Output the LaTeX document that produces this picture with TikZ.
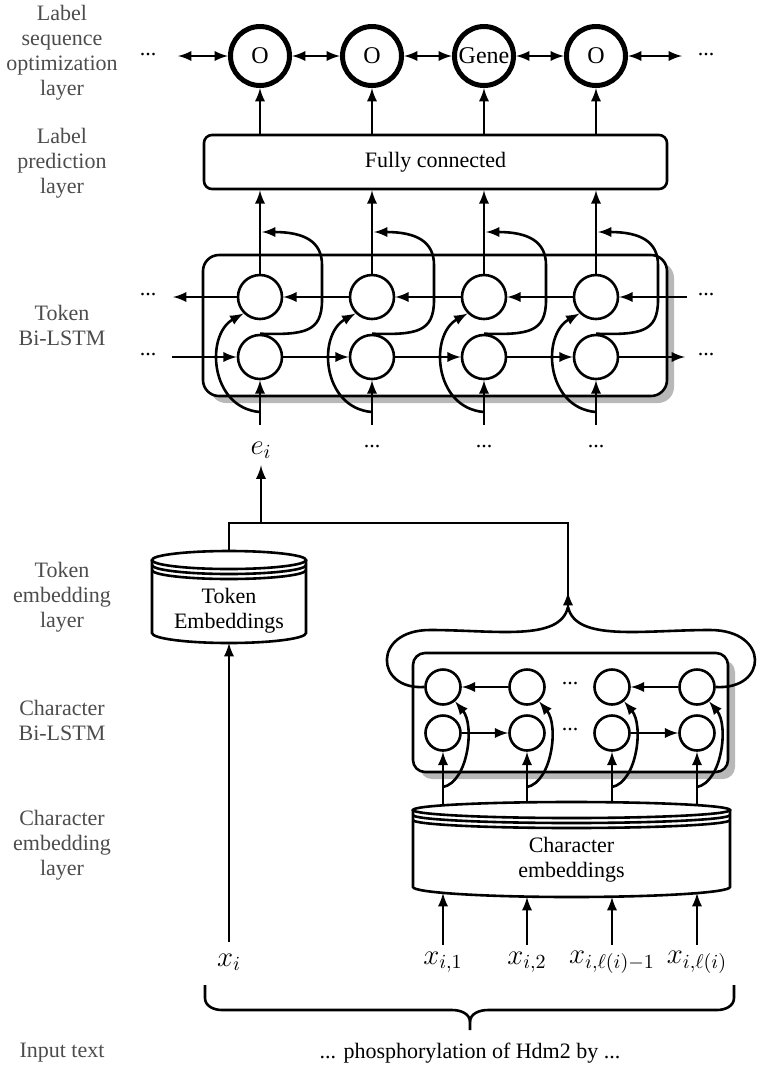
\documentclass[tikz,border=0pt]{standalone}
\usepackage{amsmath, amssymb}
\usepackage{fontspec}
\setmainfont{Liberation Serif}
\usepackage{tikz}
\usetikzlibrary{arrows,%
                shapes,positioning,shadows}
\definecolor{layergray}{rgb}{0.3,0.3,0.3}

\begin{document}
\begin{tikzpicture}[x = 0.5pt, y = -0.5pt, font = \fontsize{11}{12.5}\selectfont]
  \useasboundingbox (0,0) rectangle (760,1073);
  \tikzset{TagStyle/.style      = {shape          = circle,
                                   draw,
                                   line width     = 2.5pt,
                                   minimum size   = 29.5pt,
                                   inner sep      = 0pt,
                                   font           = \fontsize{12}{14}\selectfont}}
  \tikzset{CellStyle/.style     = {shape          = circle,
                                   draw,
                                   fill           = white,
                                   line width     = 1.3pt,
                                   minimum size   = 22pt,
                                   inner sep      = 0pt}}
  \tikzset{CharCellStyle/.style = {CellStyle,
                                   minimum size   = 17.5pt}}
  \tikzset{BoxStyle/.style      = {draw,
                                   fill           = white,
                                   line width     = 1.3pt,
                                   rounded corners = 4pt}}
  \tikzset{ShadowStyle/.style   = {BoxStyle,
                                   rounded corners = 8pt,
                                   drop shadow    = {shadow xshift = 3.5pt,
                                                     shadow yshift = -3.5pt,
                                                     fill = black!28,
                                                     opacity = 1}}}
  \tikzset{EdgeStyle/.style     = {line width     = 1.3pt,
                                   -latex}}
  \tikzset{LineStyle/.style     = {line width     = 1.3pt}}
  \tikzset{LayerStyle/.style    = {text           = layergray,
                                   align          = center}}
  \tikzset{MathStyle/.style     = {font           = \Large}}

  % layer names
  \node[LayerStyle](lso) at (62,53)  {Label\\sequence\\optimization\\layer};
  \node[LayerStyle](lpr) at (62,163) {Label\\prediction\\layer};
  \node[LayerStyle](tbl) at (62,325) {Token\\Bi-LSTM};
  \node[LayerStyle](tel) at (62,597) {Token\\embedding\\layer};
  \node[LayerStyle](cbl) at (62,720) {Character\\Bi-LSTM};
  \node[LayerStyle](cel) at (62,845) {Character\\embedding\\layer};
  \node[LayerStyle](itl) at (62,1053){Input text};

  % label sequence optimization
  \foreach \n/\x/\lab in {1/260/O, 2/372/O, 3/484/Gene, 4/596/O}
     \node[TagStyle](o\n) at (\x,56) {\lab};
  \node(odl) at (148,55) {...};
  \node(odr) at (706,55) {...};
  \coordinate (oal) at (178,56);
  \coordinate (oar) at (682,56);
  \draw[EdgeStyle, latex-latex](oal) -- (o1);
  \foreach \a/\b in {1/2, 2/3, 3/4}
     \draw[EdgeStyle, latex-latex](o\a) -- (o\b);
  \draw[EdgeStyle, latex-latex](o4) -- (oar);

  % label prediction
  \node[BoxStyle, minimum width = 231.5pt, minimum height = 27pt](fc) at (435.5,162) {Fully connected};
  \foreach \n in {1,...,4}
     \draw[EdgeStyle](fc.north -| o\n) -- (o\n);

  % token bi-lstm
  \node[ShadowStyle, minimum width = 232pt, minimum height = 70.5pt](tbox) at (435,325.5) {};
  \foreach \n/\x in {1/260, 2/372, 3/484, 4/596}{
     \node[CellStyle](b\n) at (\x,297) {};
     \node[CellStyle](f\n) at (\x,357) {};
     \coordinate (in\n) at (\x,425);
     \coordinate (sp\n) at (\x,412);
     \coordinate (mg\n) at (\x+2,232);
  }
  \coordinate (bl) at (173,297);
  \coordinate (br) at (687,297);
  \coordinate (fl) at (172,357);
  \coordinate (fr) at (685,357);
  \draw[EdgeStyle](br) -- (b4);
  \foreach \a/\b in {4/3, 3/2, 2/1}
     \draw[EdgeStyle](b\a) -- (b\b);
  \draw[EdgeStyle](b1) -- (bl);
  \draw[EdgeStyle](fl) -- (f1);
  \foreach \a/\b in {1/2, 2/3, 3/4}
     \draw[EdgeStyle](f\a) -- (f\b);
  \draw[EdgeStyle](f4) -- (fr);
  \node(bdl) at (148,295) {...};
  \node(fdl) at (148,355) {...};
  \node(bdr) at (706,295) {...};
  \node(fdr) at (706,355) {...};
  \foreach \n/\x in {1/260, 2/372, 3/484, 4/596}{
     \draw[EdgeStyle](in\n) -- (f\n);
     \draw[EdgeStyle](sp\n) .. controls (\x-50,408) and (\x-55,335) .. (b\n.225);
     \draw[EdgeStyle](f\n.north) .. controls (\x+45,335) and (\x+62,332) .. (\x+62,300)
                     -- (\x+62,265) .. controls (\x+62,242) and (\x+45,232) .. (mg\n);
     \draw[EdgeStyle](b\n) -- (fc.south -| b\n);
  }
  \node[MathStyle](e1) at (261,450) {$e_i$};
  \node(e2) at (372,447) {...};
  \node(e3) at (484,447) {...};
  \node(e4) at (596,447) {...};

  % token embeddings
  \draw[LineStyle, fill = white] (152,560) -- (152,633)
        arc[start angle = 180, end angle = 360, x radius = 38.5pt, y radius = 5pt] -- (306,560);
  \draw[LineStyle, fill = white] (229,560) ellipse [x radius = 38.5pt, y radius = 4.5pt];
  \draw[LineStyle] (152,565) arc[start angle = 180, end angle = 360, x radius = 38.5pt, y radius = 4.5pt];
  \draw[LineStyle] (152,570) arc[start angle = 180, end angle = 360, x radius = 38.5pt, y radius = 4.5pt];
  \node[align = center](te) at (229,611) {Token\\Embeddings};
  \coordinate (tetop) at (229,551);
  \coordinate (tebot) at (229,643);

  % character bi-lstm
  \node[ShadowStyle, rounded corners = 6pt, minimum width = 157.5pt, minimum height = 59.5pt](cbox) at (570.5,712.5) {};
  \foreach \n/\x in {1/443, 2/527, 3/612, 4/697}{
     \node[CharCellStyle](cb\n) at (\x,687) {};
     \node[CharCellStyle](cf\n) at (\x,733) {};
  }
  \draw[EdgeStyle](cb2) -- (cb1);
  \draw[EdgeStyle](cb4) -- (cb3);
  \draw[EdgeStyle](cf1) -- (cf2);
  \draw[EdgeStyle](cf3) -- (cf4);
  \node(cbd) at (570,684) {...};
  \node(cfd) at (570,730) {...};

  % character embeddings
  \draw[LineStyle, fill = white] (413,810) -- (413,887)
        arc[start angle = 180, end angle = 360, x radius = 79.25pt, y radius = 5pt] -- (730,810);
  \draw[LineStyle, fill = white] (571.5,810) ellipse [x radius = 79.25pt, y radius = 4pt];
  \draw[LineStyle] (413,815) arc[start angle = 180, end angle = 360, x radius = 79.25pt, y radius = 4pt];
  \draw[LineStyle] (413,820) arc[start angle = 180, end angle = 360, x radius = 79.25pt, y radius = 4pt];
  \node[align = center](ce) at (571.5,860) {Character\\embeddings};
  \foreach \n/\x/\yt/\yb in {1/443/805/893, 2/527/802/897, 3/612/802/897, 4/697/805/893}{
     \coordinate (ct\n) at (\x,\yt);
     \coordinate (cs\n) at (\x,787);
     \coordinate (cbt\n) at (\x,\yb);
     \coordinate (xb\n) at (\x,945);
     \draw[EdgeStyle](ct\n) -- (cf\n);
     \draw[EdgeStyle](cs\n) .. controls (\x+25,782) and (\x+32,725) .. (cb\n.-50);
     \draw[EdgeStyle](xb\n) -- (cbt\n);
  }

  % merging of the two representations
  \coordinate (cusp) at (568,607);
  \coordinate (cusptip) at (568,592);
  \coordinate (jl) at (229,523);
  \coordinate (jm) at (261,523);
  \coordinate (jr) at (568,523);
  \draw[LineStyle](cb1.west) .. controls (375,690) and (372,630) .. (430,630)
                  .. controls (495,630) and (560,642) .. (cusp);
  \draw[LineStyle](cb4.east) .. controls (768,690) and (770,630) .. (710,630)
                  .. controls (642,630) and (576,642) .. (cusp);
  \draw[EdgeStyle](cusp) -- (cusptip);
  \draw[LineStyle](tetop) -- (jl) -- (jr) -- (cusp);
  \draw[EdgeStyle](jm) -- (e1);

  % inputs
  \node[MathStyle](xi) at (229,962) {$x_i$};
  \node[MathStyle](xc1) at (443,962) {$x_{i,1}$};
  \node[MathStyle](xc2) at (527,962) {$x_{i,2}$};
  \node[MathStyle](xc3) at (612,962) {$x_{i,\ell(i)-1}$};
  \node[MathStyle](xc4) at (697,962) {$x_{i,\ell(i)}$};
  \coordinate (xb0) at (229,942);
  \draw[EdgeStyle](xb0) -- (tebot);

  % input brace
  \coordinate (bbl) at (205,985);
  \coordinate (bbr) at (734,985);
  \coordinate (bbc) at (470,1030);
  \draw[LineStyle](bbl) -- (205,998) to[out = -90, in = 180] (222,1010) -- (452,1010)
                  to[out = 0, in = 90] (470,1022) -- (bbc);
  \draw[LineStyle](bbr) -- (734,998) to[out = -90, in = 0] (717,1010) -- (488,1010)
                  to[out = 180, in = 90] (470,1022);
  \node(itx) at (470,1053) {... phosphorylation of Hdm2 by ...};
\end{tikzpicture}
\end{document}
